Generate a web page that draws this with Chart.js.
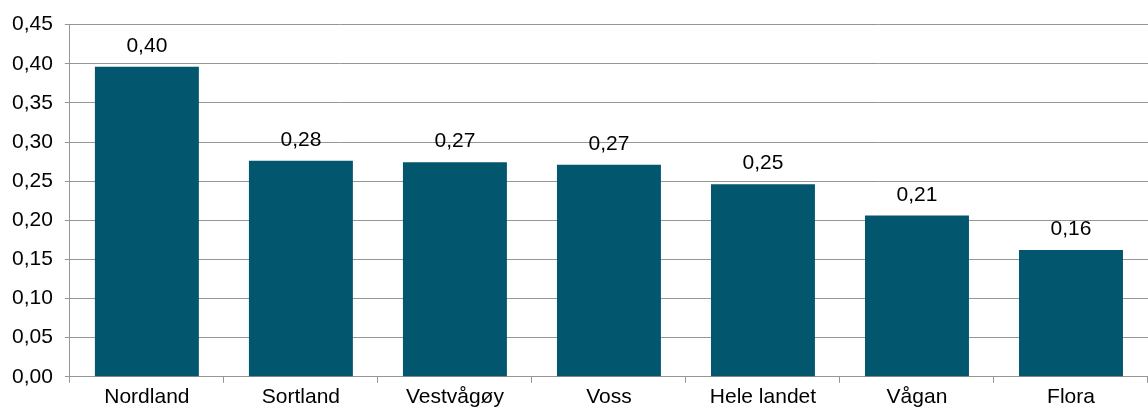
<!DOCTYPE html>
<html>
<head>
<meta charset="utf-8">
<script src="https://cdn.jsdelivr.net/npm/chart.js@4"></script>
<style>
  html, body { margin: 0; padding: 0; background: #fff; overflow: hidden; }
  #wrap { position: relative; width: 1148px; height: 412px; }
</style>
</head>
<body>
<div id="wrap"><canvas id="c"></canvas></div>
<script>
const categories = ["Nordland", "Sortland", "Vestvågøy", "Voss", "Hele landet", "Vågan", "Flora"];
const values = [0.396, 0.276, 0.274, 0.271, 0.246, 0.206, 0.162];
const yMin = 0;
const yMax = 0.45;
const yStep = 0.05;

const fmt = v => Number(v).toFixed(2).replace('.', ',');
const FONT = { family: "'Liberation Sans', Arial, sans-serif", size: 21 };
const GRID = '#969696';

const valueLabels = {
  id: 'valueLabels',
  afterDatasetsDraw(chart) {
    const ctx = chart.ctx;
    const meta = chart.getDatasetMeta(0);
    ctx.save();
    ctx.font = `${FONT.size}px ${FONT.family}`;
    ctx.fillStyle = '#000';
    ctx.textAlign = 'center';
    ctx.textBaseline = 'alphabetic';
    meta.data.forEach((bar, i) => {
      ctx.fillText(fmt(chart.data.datasets[0].data[i]), bar.x, bar.y - 15);
    });
    ctx.restore();
  }
};

new Chart(document.getElementById('c'), {
  type: 'bar',
  data: {
    labels: categories,
    datasets: [{
      data: values,
      backgroundColor: '#02566e',
      borderWidth: 0,
      categoryPercentage: 1,
      barPercentage: 0.675
    }]
  },
  options: {
    responsive: true,
    maintainAspectRatio: false,
    animation: false,
    devicePixelRatio: 1,
    layout: { padding: { top: 24, left: 0, right: 0, bottom: 0 } },
    plugins: { legend: { display: false }, tooltip: { enabled: false } },
    scales: {
      x: {
        offset: true,
        grid: { display: true, drawOnChartArea: false, drawTicks: true, tickLength: 6, offset: true, color: GRID, lineWidth: 1 },
        border: { display: true, color: GRID, width: 1 },
        ticks: { color: '#000', font: FONT, padding: 2, maxRotation: 0, autoSkip: false }
      },
      y: {
        min: yMin,
        max: yMax,
        grid: { color: GRID, lineWidth: 1, drawTicks: true, tickLength: 5 },
        border: { display: true, color: GRID, width: 1 },
        ticks: { stepSize: yStep, color: '#000', font: FONT, padding: 12, callback: v => fmt(v) }
      }
    }
  },
  plugins: [valueLabels]
});
</script>
</body>
</html>
